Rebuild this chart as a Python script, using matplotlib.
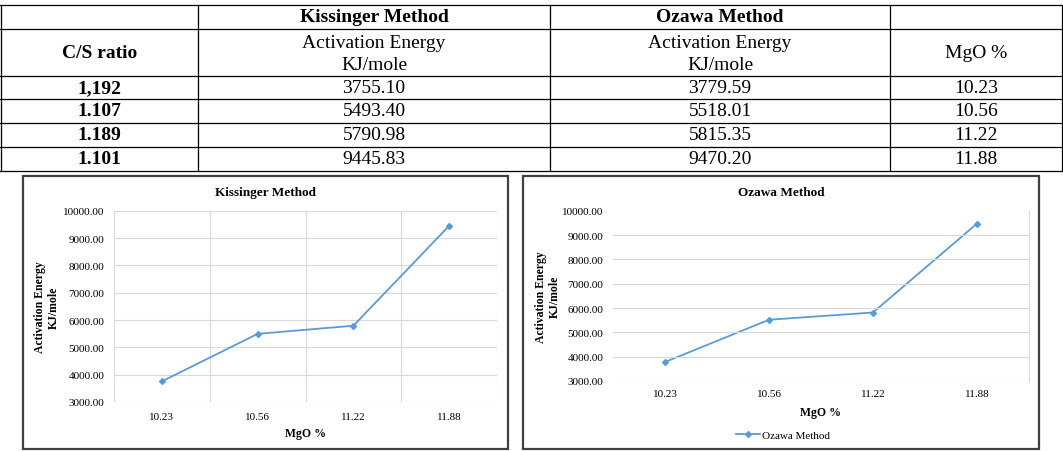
"""Activation energy vs MgO %: table plus Kissinger / Ozawa line charts."""

import matplotlib.pyplot as plt
from matplotlib.patches import Rectangle

plt.rcParams["font.family"] = ["Liberation Serif", "DejaVu Serif"]

cs_ratio = ["1,192", "1.107", "1.189", "1.101"]
kissinger = [3755.10, 5493.40, 5790.98, 9445.83]
ozawa = [3779.59, 5518.01, 5815.35, 9470.20]
mgo = [10.23, 10.56, 11.22, 11.88]
yticks = [3000, 4000, 5000, 6000, 7000, 8000, 9000, 10000]

W, H = 1063, 452
LINE = "#5b9bd5"
GRID = "#d9d9d9"


def fig_rect(x0, y0, x1, y1):
    # pixel box (top-left origin) -> figure fraction
    return [x0 / W, 1 - y1 / H, (x1 - x0) / W, (y1 - y0) / H]


fig = plt.figure(figsize=(W / 100, H / 100), dpi=100)

# overlay in pixel coordinates for the table and panel frames
ov = fig.add_axes([0, 0, 1, 1], zorder=0)
ov.set_xlim(0, W)
ov.set_ylim(H, 0)
ov.axis("off")

col_edges = [1, 198, 550, 890, 1062]
row_edges = [6, 30, 77, 100, 124, 148, 172]
for y in row_edges:
    ov.plot([0, W], [y, y], color="black", lw=0.9)
for x in col_edges:
    ov.plot([x, x], [row_edges[0], row_edges[-1]], color="black", lw=0.9)

cx = [(col_edges[i] + col_edges[i + 1]) / 2 for i in range(4)]
fs = 14
ov.text(cx[1], 18, "Kissinger Method", ha="center", va="center", fontsize=fs, fontweight="bold")
ov.text(cx[2], 18, "Ozawa Method", ha="center", va="center", fontsize=fs, fontweight="bold")
ov.text(cx[0], 54, "C/S ratio", ha="center", va="center", fontsize=fs, fontweight="bold")
for c in (1, 2):
    ov.text(cx[c], 43, "Activation Energy", ha="center", va="center", fontsize=fs)
    ov.text(cx[c], 66, "KJ/mole", ha="center", va="center", fontsize=fs)
ov.text(cx[3], 54, "MgO %", ha="center", va="center", fontsize=fs)

for i in range(len(cs_ratio)):
    yc = (row_edges[i + 2] + row_edges[i + 3]) / 2
    ov.text(cx[0], yc, cs_ratio[i], ha="center", va="center", fontsize=fs, fontweight="bold")
    ov.text(cx[1], yc, f"{kissinger[i]:.2f}", ha="center", va="center", fontsize=fs)
    ov.text(cx[2], yc, f"{ozawa[i]:.2f}", ha="center", va="center", fontsize=fs)
    ov.text(cx[3], yc, f"{mgo[i]:.2f}", ha="center", va="center", fontsize=fs)

# panel frames and their titles (centred on the frame, as in Excel)
frames = [(23, 508, "Kissinger Method"), (523, 1039, "Ozawa Method")]
for x0, x1, title in frames:
    ov.add_patch(Rectangle((x0, 177), x1 - x0, 273, fill=False, ec="#404040", lw=1.6))
    ov.text((x0 + x1) / 2, 193, title, ha="center", va="center", fontsize=9.5, fontweight="bold")

xpos = list(range(len(mgo)))
xlabels = [f"{v:.2f}" for v in mgo]
tfs = 8

# Kissinger chart
ax1 = fig.add_axes(fig_rect(114, 211.7, 497, 403), zorder=2)
ax1.set_facecolor("none")
ax1.plot(xpos, kissinger, color=LINE, lw=1.3, marker="D", ms=3)
ax1.set_xlim(-0.5, 3.5)
ax1.set_ylim(3000, 10000)
ax1.set_yticks(yticks)
ax1.set_yticklabels([f"{v:.2f}" for v in yticks], fontsize=tfs)
ax1.set_xticks(xpos)
ax1.set_xticklabels(xlabels, fontsize=tfs)
ax1.set_xticks([-0.5, 0.5, 1.5, 2.5, 3.5], minor=True)
ax1.tick_params(axis="x", which="both", length=0, pad=7.5)
ax1.tick_params(axis="y", which="both", length=0, pad=7)
ax1.grid(True, axis="y", color=GRID, lw=0.8)
ax1.grid(True, axis="x", which="minor", color=GRID, lw=0.8)
for s in ax1.spines.values():
    s.set_visible(False)
ax1.set_xlabel("MgO %", fontsize=8.5, fontweight="bold", labelpad=4)
ax1.set_ylabel("Activation Energy\nKJ/mole", fontsize=8.5, fontweight="bold",
               labelpad=2, linespacing=1.2)

# Ozawa chart
ax2 = fig.add_axes(fig_rect(613, 211.7, 1029, 382), zorder=2)
ax2.set_facecolor("none")
ax2.plot(xpos, ozawa, color=LINE, lw=1.3, marker="D", ms=3, label="Ozawa Method")
ax2.set_xlim(-0.5, 3.5)
ax2.set_ylim(3000, 10000)
ax2.set_yticks(yticks)
ax2.set_yticklabels([f"{v:.2f}" for v in yticks], fontsize=tfs)
ax2.set_xticks(xpos)
ax2.set_xticklabels(xlabels, fontsize=tfs)
ax2.tick_params(axis="x", length=0, pad=6)
ax2.tick_params(axis="y", length=0, pad=7)
for v in yticks[:-1]:
    ax2.axhline(v, color=GRID, lw=0.8)
for k, s in ax2.spines.items():
    s.set_visible(k == "right")
ax2.spines["right"].set_color(GRID)
ax2.set_xlabel("MgO %", fontsize=8.5, fontweight="bold", labelpad=5.5)
ax2.set_ylabel("Activation Energy\nKJ/mole", fontsize=8.5, fontweight="bold",
               labelpad=1, linespacing=1.2)
ax2.legend(loc="center", bbox_to_anchor=(783 / W, 1 - 436 / H), bbox_transform=fig.transFigure,
           frameon=False, fontsize=8, handlelength=2.2, handletextpad=0.2, borderpad=0)

fig.savefig("out.png", dpi=100)
